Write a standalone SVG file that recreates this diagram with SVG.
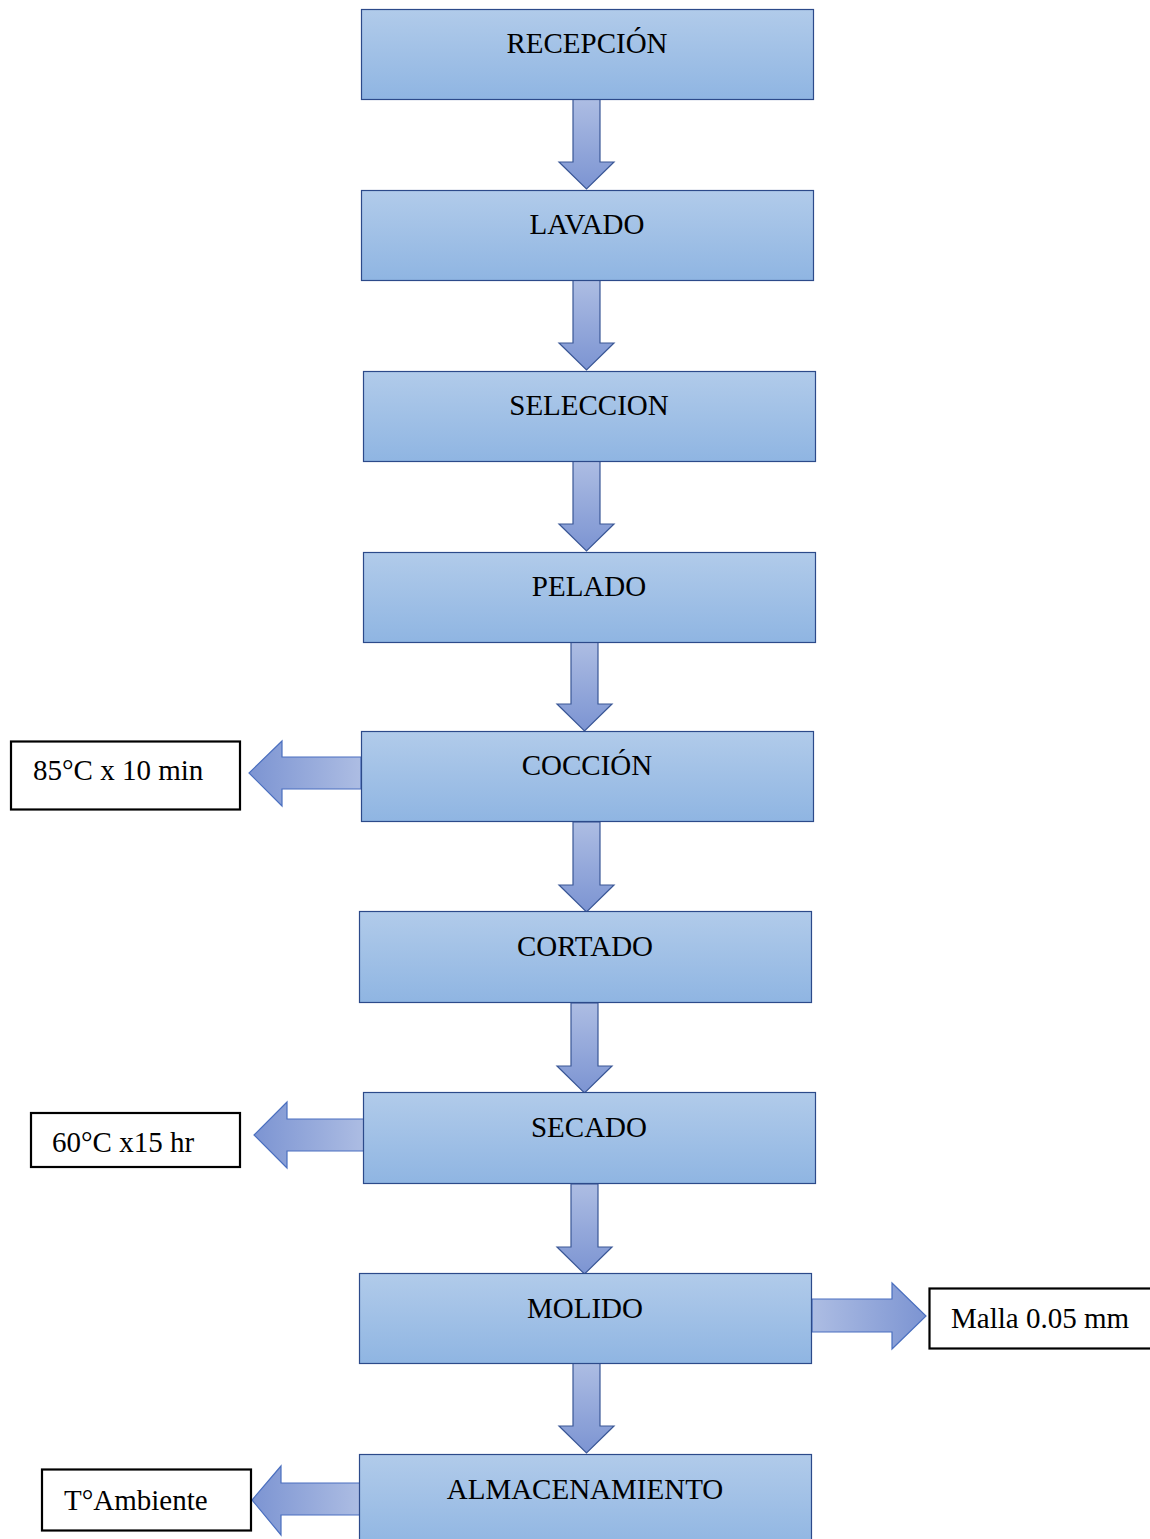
<svg xmlns="http://www.w3.org/2000/svg" width="1150" height="1539" viewBox="0 0 1150 1539">
<defs>
<linearGradient id="boxg" x1="0" y1="0" x2="0" y2="1">
<stop offset="0" stop-color="#b1cbea"/>
<stop offset="1" stop-color="#8fb5e2"/>
</linearGradient>
<linearGradient id="downg" x1="0" y1="0" x2="0" y2="1">
<stop offset="0" stop-color="#adbde3"/>
<stop offset="1" stop-color="#7c94d2"/>
</linearGradient>
<linearGradient id="leftg" x1="1" y1="0" x2="0" y2="0">
<stop offset="0" stop-color="#adbde3"/>
<stop offset="1" stop-color="#7c94d2"/>
</linearGradient>
<linearGradient id="rightg" x1="0" y1="0" x2="1" y2="0">
<stop offset="0" stop-color="#adbde3"/>
<stop offset="1" stop-color="#7c94d2"/>
</linearGradient>
</defs>
<style>
.box{fill:url(#boxg);stroke:#2c4a8a;stroke-width:1.2}
.lbl{font-family:"Liberation Serif","Times New Roman",serif;font-size:29px;fill:#000}
.note{fill:#fff;stroke:#000;stroke-width:2.2}
.da{fill:url(#downg);stroke:#3a5796;stroke-width:1.2}
.la{fill:url(#leftg);stroke:#4a6fbf;stroke-width:1.2}
.ra{fill:url(#rightg);stroke:#4a6fbf;stroke-width:1.2}
</style>
<rect width="1150" height="1539" fill="#fff"/>
<g id="connectors">
<polygon class="da" points="573,99 600,99 600,162 614,162 586.5,189 559,162 573,162"/>
<polygon class="da" points="573,280 600,280 600,343 614,343 586.5,370 559,343 573,343"/>
<polygon class="da" points="573,461 600,461 600,524 614,524 586.5,551 559,524 573,524"/>
<polygon class="da" points="571,642 598,642 598,704 612,704 584.5,731 557,704 571,704"/>
<polygon class="da" points="573,822 600,822 600,885 614,885 586.5,912 559,885 573,885"/>
<polygon class="da" points="571,1003 598,1003 598,1066 612,1066 584.5,1093 557,1066 571,1066"/>
<polygon class="da" points="571,1184 598,1184 598,1247 612,1247 584.5,1274 557,1247 571,1247"/>
<polygon class="da" points="573,1363 600,1363 600,1426 614,1426 586.5,1453 559,1426 573,1426"/>
<polygon class="la" points="361,757 282,757 282,741 249,773 282,806 282,789 361,789"/>
<polygon class="la" points="365,1119 287,1119 287,1102 254,1135 287,1168 287,1151 365,1151"/>
<polygon class="ra" points="812,1299 892,1299 892,1283 926,1316 892,1349 892,1332 812,1332"/>
<polygon class="la" points="361,1483 281,1483 281,1466 252,1500 281,1535 281,1515 361,1515"/>
</g>
<g id="n1"><rect class="box" x="361.5" y="9.5" width="452" height="90"/><text class="lbl" x="587" y="53" text-anchor="middle">RECEPCIÓN</text></g>
<g id="n2"><rect class="box" x="361.5" y="190.5" width="452" height="90"/><text class="lbl" x="587" y="234" text-anchor="middle">LAVADO</text></g>
<g id="n3"><rect class="box" x="363.5" y="371.5" width="452" height="90"/><text class="lbl" x="589" y="415" text-anchor="middle">SELECCION</text></g>
<g id="n4"><rect class="box" x="363.5" y="552.5" width="452" height="90"/><text class="lbl" x="589" y="596" text-anchor="middle">PELADO</text></g>
<g id="n5"><rect class="box" x="361.5" y="731.5" width="452" height="90"/><text class="lbl" x="587" y="775" text-anchor="middle">COCCIÓN</text></g>
<g id="n6"><rect class="box" x="359.5" y="911.5" width="452" height="91"/><text class="lbl" x="585" y="956" text-anchor="middle">CORTADO</text></g>
<g id="n7"><rect class="box" x="363.5" y="1092.5" width="452" height="91"/><text class="lbl" x="589" y="1137" text-anchor="middle">SECADO</text></g>
<g id="n8"><rect class="box" x="359.5" y="1273.5" width="452" height="90"/><text class="lbl" x="585" y="1318" text-anchor="middle">MOLIDO</text></g>
<g id="n9"><rect class="box" x="359.5" y="1454.5" width="452" height="95"/><text class="lbl" x="585" y="1499" text-anchor="middle">ALMACENAMIENTO</text></g>
<g id="t1"><rect class="note" x="11" y="741.5" width="229" height="68"/><text class="lbl" x="33" y="780">85°C x 10 min</text></g>
<g id="t2"><rect class="note" x="31" y="1113" width="209" height="54"/><text class="lbl" x="52" y="1152">60°C x15 hr</text></g>
<g id="t3"><rect class="note" x="929.5" y="1288.5" width="230" height="60"/><text class="lbl" x="951" y="1328">Malla 0.05 mm</text></g>
<g id="t4"><rect class="note" x="42" y="1469.5" width="209" height="61"/><text class="lbl" x="64" y="1510">T°Ambiente</text></g>
</svg>
